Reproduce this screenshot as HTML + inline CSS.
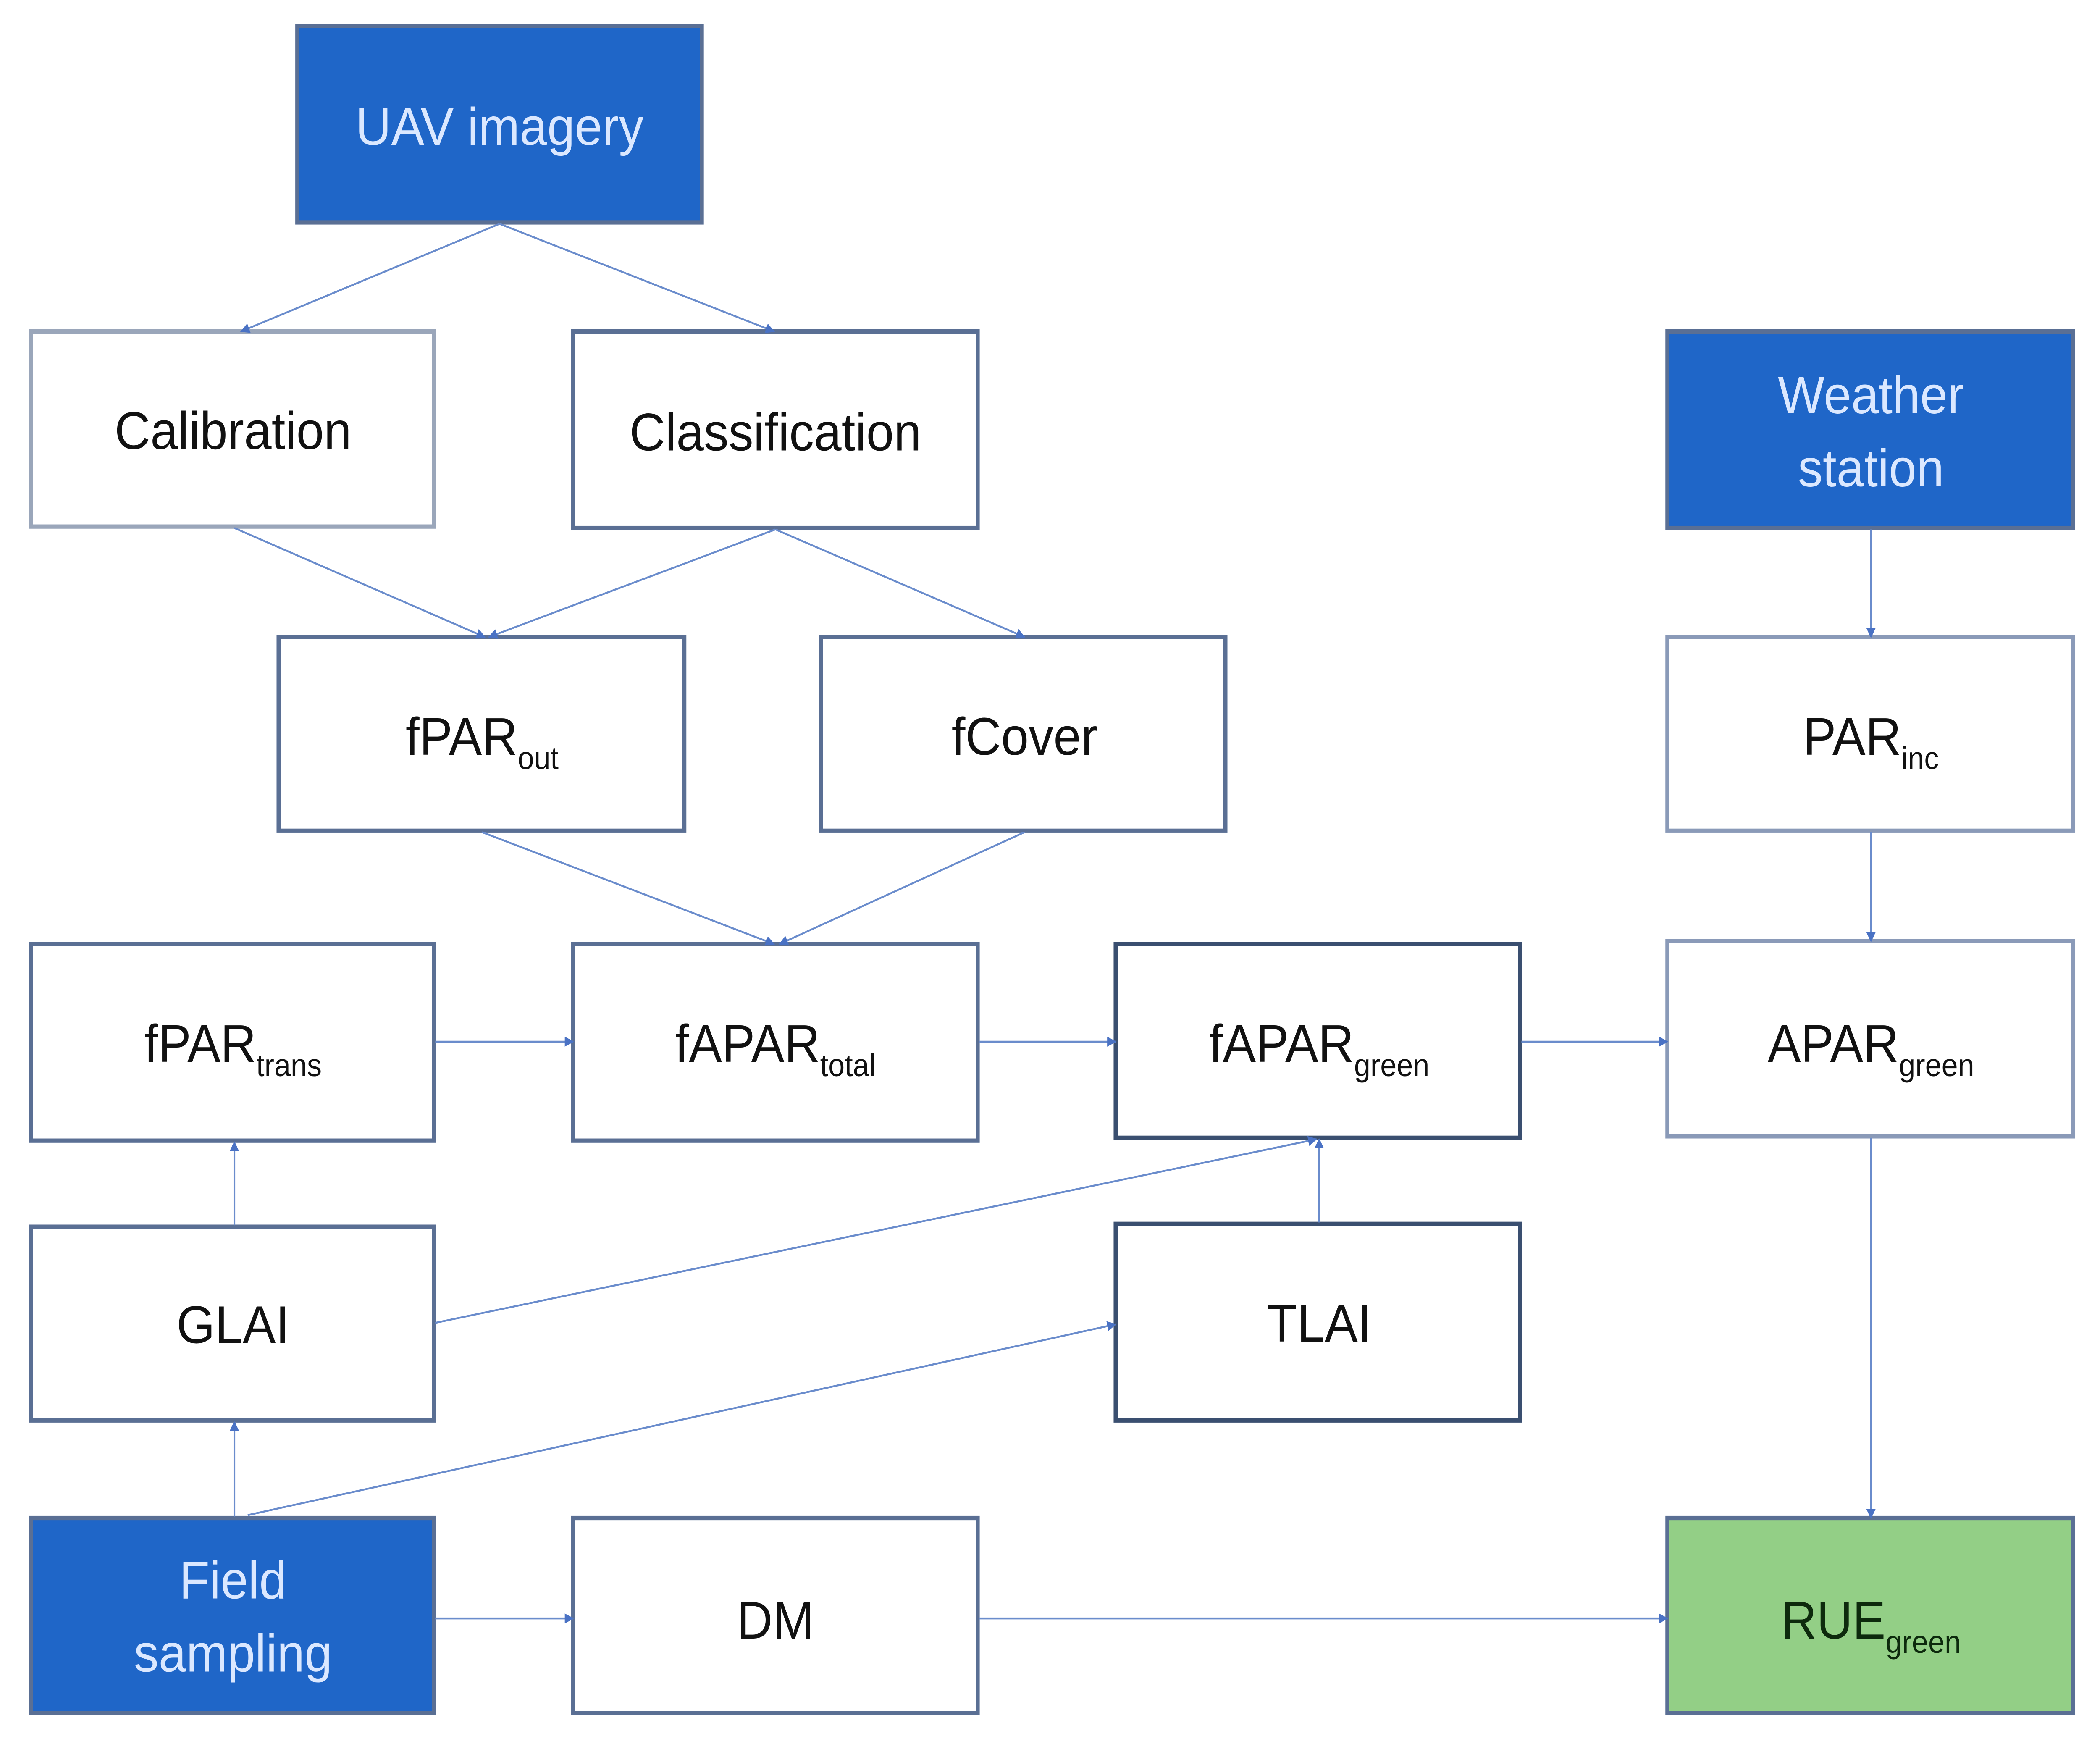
<!DOCTYPE html>
<html><head><meta charset="utf-8"><style>
html,body{margin:0;padding:0;background:#fff;width:100%;height:100%;overflow:hidden;}
svg{display:block;position:fixed;left:0;top:0;width:100vw;height:100vh;}
text{font-family:"Liberation Sans",sans-serif;}
</style></head><body>
<svg viewBox="0 0 1568 1219" preserveAspectRatio="none" xmlns="http://www.w3.org/2000/svg">
<defs>
<marker id="a" viewBox="0 0 10 10" refX="9" refY="5" markerWidth="7" markerHeight="7" orient="auto" markerUnits="userSpaceOnUse">
<path d="M0,0 L10,5 L0,10 z" fill="#4a72c4"/></marker>
</defs>
<rect width="1568" height="1219" fill="#fff"/>
<g stroke="#5a6f94" stroke-width="3">
<rect x="222" y="18" width="302" height="137" fill="#1f66c8"/>
<rect x="23" y="231" width="301" height="136" fill="#fff" stroke="#9aa6ba"/>
<rect x="428" y="231" width="302" height="137" fill="#fff"/>
<rect x="1245" y="231" width="303" height="137" fill="#1f66c8"/>
<rect x="208" y="444" width="303" height="135" fill="#fff"/>
<rect x="613" y="444" width="302" height="135" fill="#fff"/>
<rect x="1245" y="444" width="303" height="135" fill="#fff" stroke="#8a9ab8"/>
<rect x="23" y="658" width="301" height="137" fill="#fff"/>
<rect x="428" y="658" width="302" height="137" fill="#fff"/>
<rect x="833" y="658" width="302" height="135" fill="#fff" stroke="#3a4f70"/>
<rect x="1245" y="656" width="303" height="136" fill="#fff" stroke="#8a9ab8"/>
<rect x="23" y="855" width="301" height="135" fill="#fff"/>
<rect x="833" y="853" width="302" height="137" fill="#fff" stroke="#3a4f70"/>
<rect x="23" y="1058" width="301" height="136" fill="#1f66c8"/>
<rect x="428" y="1058" width="302" height="136" fill="#fff"/>
<rect x="1245" y="1058" width="303" height="136" fill="#93cf86"/>
</g>
<g stroke="#6a8ccc" stroke-width="1.3" fill="none" marker-end="url(#a)">
<line x1="373" y1="156" x2="180" y2="231"/>
<line x1="373" y1="156" x2="578" y2="231"/>
<line x1="175" y1="368" x2="362" y2="444"/>
<line x1="579" y1="369" x2="365" y2="444"/>
<line x1="579" y1="369" x2="765" y2="444"/>
<line x1="360" y1="580" x2="578" y2="658"/>
<line x1="765" y1="580" x2="582" y2="658"/>
<line x1="325" y1="726" x2="428" y2="726"/>
<line x1="731" y1="726" x2="833" y2="726"/>
<line x1="1136" y1="726" x2="1245" y2="726"/>
<line x1="1397" y1="369" x2="1397" y2="444"/>
<line x1="1397" y1="580" x2="1397" y2="656"/>
<line x1="1397" y1="793" x2="1397" y2="1058"/>
<line x1="175" y1="854" x2="175" y2="796"/>
<line x1="325" y1="922" x2="983" y2="794"/>
<line x1="985" y1="852" x2="985" y2="794"/>
<line x1="175" y1="1057" x2="175" y2="991"/>
<line x1="185" y1="1056" x2="833" y2="923"/>
<line x1="325" y1="1128" x2="428" y2="1128"/>
<line x1="731" y1="1128" x2="1245" y2="1128"/>
</g>
<g font-size="37" text-anchor="middle" fill="#111">
<text x="373" y="101" fill="#dbe8ff">UAV imagery</text>
<text x="174" y="313">Calibration</text>
<text x="579" y="314">Classification</text>
<text x="1397" y="288" fill="#dbe8ff">Weather</text>
<text x="1397" y="339" fill="#dbe8ff">station</text>
<text x="360" y="526">fPAR<tspan font-size="22" dy="10">out</tspan></text>
<text x="765" y="526">fCover</text>
<text x="1397" y="526">PAR<tspan font-size="22" dy="10">inc</tspan></text>
<text x="174" y="740">fPAR<tspan font-size="22" dy="10">trans</tspan></text>
<text x="579" y="740">fAPAR<tspan font-size="22" dy="10">total</tspan></text>
<text x="985" y="740">fAPAR<tspan font-size="22" dy="10">green</tspan></text>
<text x="1397" y="740">APAR<tspan font-size="22" dy="10">green</tspan></text>
<text x="174" y="936">GLAI</text>
<text x="985" y="935">TLAI</text>
<text x="174" y="1114" fill="#dbe8ff">Field</text>
<text x="174" y="1165" fill="#dbe8ff">sampling</text>
<text x="579" y="1142">DM</text>
<text x="1397" y="1142" fill="#0d2a0d">RUE<tspan font-size="22" dy="10">green</tspan></text>
</g>
</svg>
</body></html>
